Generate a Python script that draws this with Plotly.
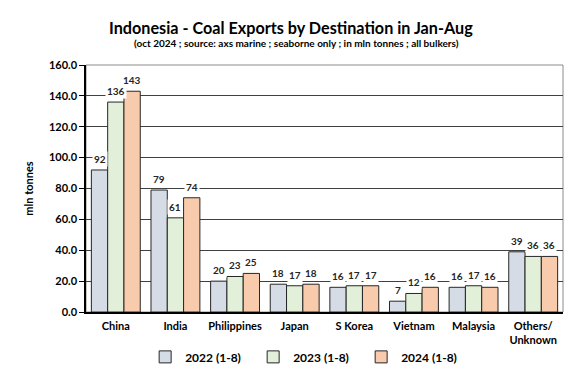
import plotly.graph_objects as go

categories = ["China", "India", "Philippines", "Japan", "S Korea", "Vietnam", "Malaysia", "Others/<br>Unknown"]
series_names = ["2022 (1-8)", "2023 (1-8)", "2024 (1-8)"]
v2022 = [92, 79, 20, 18, 16, 7, 16, 39]
v2023 = [136, 61, 23, 17, 17, 12, 17, 36]
v2024 = [143, 74, 25, 18, 17, 16, 16, 36]
y_ticks = [0, 20, 40, 60, 80, 100, 120, 140, 160]
y_ticklabels = ["0.0", "20.0", "40.0", "60.0", "80.0", "100.0", "120.0", "140.0", "160.0"]

colors = ["#D6DCE5", "#E2F0D9", "#F8CBAD"]
FONT = "Lato"
W, H = 582, 382
# page body adds an 8px offset, margins compensate for it
L, R, T, B = 78, 27, 57, 78
BARGAP = 0.18

fig = go.Figure()
all_vals = [v2022, v2023, v2024]
for name, vals, col in zip(series_names, all_vals, colors):
    fig.add_trace(go.Bar(
        x=categories, y=vals, name=f"<b>{name}</b>",
        marker=dict(color=col, line=dict(color="#262626", width=1)),
    ))

plot_w = W - L - R
bar_px = plot_w / len(categories) * (1 - BARGAP) / 3
for i, vals in enumerate(all_vals):
    for c, v in zip(categories, vals):
        fig.add_annotation(
            x=c, y=v, xref="x", yref="y", text=f"<b>{v}</b>",
            showarrow=False, yanchor="bottom", xshift=(i - 1) * bar_px, yshift=3,
            bgcolor="white", borderpad=1,
            font=dict(family=FONT, size=10, color="#262626"),
        )

fig.add_shape(type="rect", xref="paper", yref="paper", x0=0, x1=1, y0=0, y1=1,
              line=dict(color="#8c8c8c", width=1), layer="below")

fig.add_annotation(
    text="<b>Indonesia - Coal Exports by Destination in Jan-Aug</b>",
    xref="paper", yref="paper", x=0.43, y=1, yshift=38, xanchor="center", yanchor="middle",
    showarrow=False, font=dict(family=FONT, size=16.2, color="#000000"),
)
fig.add_annotation(
    text="<b>(oct 2024 ; source: axs marine ; seaborne only ; in mln tonnes ; all bulkers)</b>",
    xref="paper", yref="paper", x=0.441, y=1, yshift=22.5, xanchor="center", yanchor="middle",
    showarrow=False, font=dict(family=FONT, size=10, color="#000000"),
)

fig.update_layout(
    width=W, height=H,
    margin=dict(l=L, r=R, t=T, b=B, autoexpand=False),
    paper_bgcolor="white", plot_bgcolor="white",
    barmode="group", bargap=BARGAP, bargroupgap=0,
    font=dict(family=FONT, color="#1a1a1a"),
    showlegend=True,
    legend=dict(orientation="h", x=0.124, xanchor="left", xref="paper",
                y=-0.123, yanchor="top", entrywidth=63, itemwidth=30,
                font=dict(family=FONT, size=12, color="#000000")),
)
fig.update_xaxes(showline=True, linecolor="#000000", linewidth=1.5,
                 tickfont=dict(family=FONT, size=11, color="#000000"),
                 ticks="", showgrid=False, automargin=False, ticklabelstandoff=3,
                 ticktext=[f"<b>{c}</b>" for c in categories], tickvals=categories)
fig.update_yaxes(range=[0, 160], tickvals=y_ticks, ticktext=[f"<b>{t}</b>" for t in y_ticklabels],
                 showline=True, linecolor="#000000", linewidth=1.5,
                 ticks="outside", ticklen=5, tickcolor="#000000",
                 showgrid=True, gridcolor="#404040", gridwidth=1,
                 zeroline=False, automargin=False,
                 tickfont=dict(family=FONT, size=11, color="#000000"),
                 title=dict(text="<b>mln tonnes</b>", font=dict(family=FONT, size=11, color="#000000"), standoff=13))

fig.write_html("out.html")
